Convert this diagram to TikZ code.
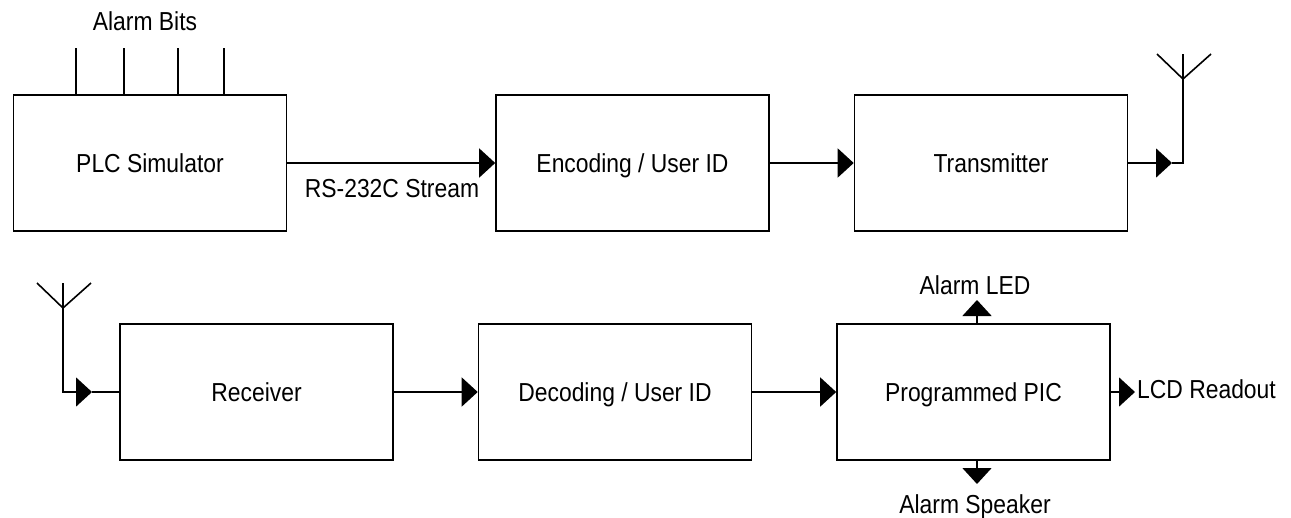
\documentclass[tikz,border=0pt]{standalone}
\usepackage{fontspec}
\setmainfont[FakeStretch=0.88]{Liberation Sans}
\usepackage{tikz}
\usetikzlibrary{arrows.meta,positioning}

\tikzset{
	block/.style={draw,line width=1.6pt,minimum width=273pt,minimum height=136pt,inner sep=0pt,text height=19pt,text depth=0pt,font=\fontsize{26}{30}\selectfont},
	wire/.style={line width=1.6pt},
	sig/.style={wire,-{Triangle[length=16pt,width=29pt]}},
	lbl/.style={inner sep=0pt,text height=19pt,text depth=0pt,font=\fontsize{26}{30}\selectfont}
}

\begin{document}
\begin{tikzpicture}[x=1pt,y=-1pt]
	\useasboundingbox (0,0) rectangle (1291,517);
	\node[block] (plc) at (150,163) {PLC Simulator};
	\node[block] (enc) at (632.5,163) {Encoding / User ID};
	\node[block] (tx) at (991,163) {Transmitter};
	\node[block] (rx) at (256.5,392) {Receiver};
	\node[block] (dec) at (615,392) {Decoding / User ID};
	\node[block] (pic) at (973.5,392) {Programmed PIC};
	\node[lbl] (bits) at (145,21) {Alarm Bits};
	\foreach \x in {76,124,178,224} {
		\coordinate (bit\x) at (\x,48);
		\draw[wire] (bit\x) -- (bit\x |- plc.north);
	}
	\draw[sig] (plc.east) -- (enc.west);
	\node[lbl] (rs) at (392,188) {RS-232C Stream};
	\draw[sig] (enc.east) -- (tx.west);
	\coordinate (txtip) at (1172,163);
	\coordinate (txmast) at (1183,79);
	\draw[sig] (tx.east) -- (txtip);
	\draw[wire] (txtip) -- (txtip -| txmast) -- (txmast);
	\draw[wire] (txmast) -- ++(0,-25) (txmast) -- ++(-26,-25) (txmast) -- ++(28,-25);
	\coordinate (rxmast) at (63,308);
	\coordinate (rxtip) at (92,392);
	\draw[wire] (rxmast) -- ++(0,-25) (rxmast) -- ++(-26,-25) (rxmast) -- ++(28,-25);
	\draw[sig] (rxmast) |- (rxtip);
	\draw[wire] (rxtip) -- (rx.west);
	\draw[sig] (rx.east) -- (dec.west);
	\draw[sig] (dec.east) -- (pic.west);
	\coordinate (led) at (977,300);
	\coordinate (spk) at (977,484);
	\coordinate (lcd) at (1135,392);
	\draw[sig] (pic.north -| led) -- (led);
	\draw[sig] (pic.south -| spk) -- (spk);
	\draw[sig] (pic.east) -- (lcd);
	\node[lbl] (ledlbl) at (975,285) {Alarm LED};
	\node[lbl] (spklbl) at (975,504) {Alarm Speaker};
	\node[lbl,anchor=west] (lcdlbl) at (1137,389) {LCD Readout};
\end{tikzpicture}
\end{document}
